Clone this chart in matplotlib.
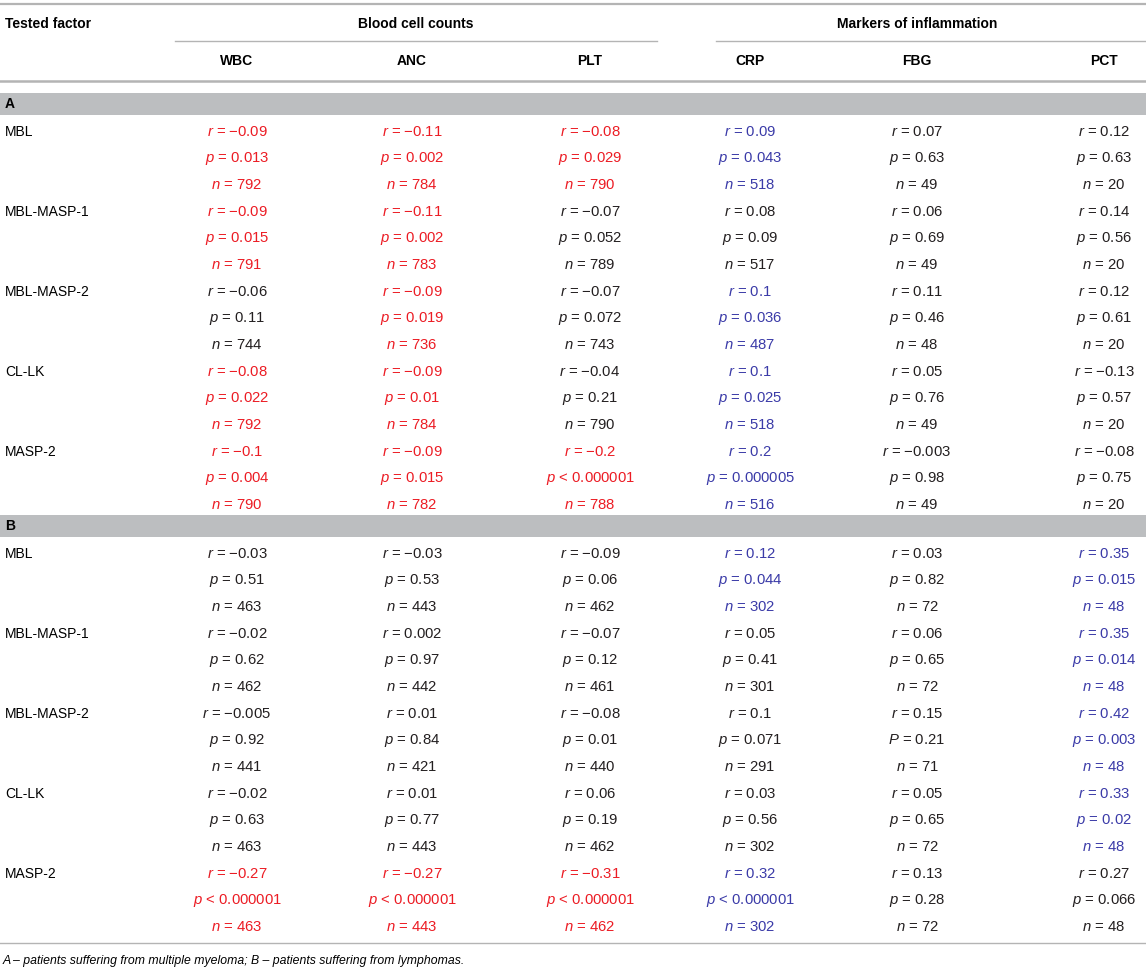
import matplotlib.pyplot as plt

plt.rcParams['font.family'] = ['Liberation Sans', 'DejaVu Sans']
plt.rcParams['mathtext.fontset'] = 'custom'
plt.rcParams['mathtext.it'] = 'Liberation Sans:italic'
plt.rcParams['mathtext.rm'] = 'Liberation Sans'

# table data
factors = ['MBL', 'MBL-MASP-1', 'MBL-MASP-2', 'CL-LK', 'MASP-2']
columns = ['WBC', 'ANC', 'PLT', 'CRP', 'FBG', 'PCT']
groups = ['Blood cell counts', 'Markers of inflammation']

r_A = [['-0.09', '-0.11', '-0.08', '0.09', '0.07', '0.12'],
       ['-0.09', '-0.11', '-0.07', '0.08', '0.06', '0.14'],
       ['-0.06', '-0.09', '-0.07', '0.1', '0.11', '0.12'],
       ['-0.08', '-0.09', '-0.04', '0.1', '0.05', '-0.13'],
       ['-0.1', '-0.09', '-0.2', '0.2', '-0.003', '-0.08']]
p_A = [['0.013', '0.002', '0.029', '0.043', '0.63', '0.63'],
       ['0.015', '0.002', '0.052', '0.09', '0.69', '0.56'],
       ['0.11', '0.019', '0.072', '0.036', '0.46', '0.61'],
       ['0.022', '0.01', '0.21', '0.025', '0.76', '0.57'],
       ['0.004', '0.015', '<0.000001', '0.000005', '0.98', '0.75']]
n_A = [[792, 784, 790, 518, 49, 20],
       [791, 783, 789, 517, 49, 20],
       [744, 736, 743, 487, 48, 20],
       [792, 784, 790, 518, 49, 20],
       [790, 782, 788, 516, 49, 20]]
col_A = ['rrrbkk', 'rrkkkk', 'krkbkk', 'rrkbkk', 'rrrbkk']

r_B = [['-0.03', '-0.03', '-0.09', '0.12', '0.03', '0.35'],
       ['-0.02', '0.002', '-0.07', '0.05', '0.06', '0.35'],
       ['-0.005', '0.01', '-0.08', '0.1', '0.15', '0.42'],
       ['-0.02', '0.01', '0.06', '0.03', '0.05', '0.33'],
       ['-0.27', '-0.27', '-0.31', '0.32', '0.13', '0.27']]
p_B = [['0.51', '0.53', '0.06', '0.044', '0.82', '0.015'],
       ['0.62', '0.97', '0.12', '0.41', '0.65', '0.014'],
       ['0.92', '0.84', '0.01', '0.071', '0.21', '0.003'],
       ['0.63', '0.77', '0.19', '0.56', '0.65', '0.02'],
       ['<0.000001', '<0.000001', '<0.000001', '<0.000001', '0.28', '0.066']]
n_B = [[463, 443, 462, 302, 72, 48],
       [462, 442, 461, 301, 72, 48],
       [441, 421, 440, 291, 71, 48],
       [463, 443, 462, 302, 72, 48],
       [463, 443, 462, 302, 72, 48]]
col_B = ['kkkbkb', 'kkkkkb', 'kkkkkb', 'kkkkkb', 'rrrbkk']

capital_p = [('B', 2, 4)]   # printed as "P" in the original

footnote = 'A – patients suffering from multiple myeloma; B – patients suffering from lymphomas.'

colours = {'r': '#ec1c24', 'b': '#3b3ba8', 'k': '#231f20'}
line_c = '#b4b4b4'
band_c = '#bcbec0'

fig = plt.figure(figsize=(11.46, 9.72), dpi=100)
ax = fig.add_axes([0, 0, 1, 1])
ax.set_xlim(0, 1146)
ax.set_ylim(972, 0)
ax.axis('off')

fs = 10
fs_body = 10.7
col_x = [237, 412, 590, 750, 917, 1104]

# header
ax.axhline(4, color=line_c, lw=1.6)
ax.text(5, 24, 'Tested factor', fontsize=fs, fontweight='bold', va='center')
ax.text(416, 24, groups[0], fontsize=fs, fontweight='bold', va='center', ha='center')
ax.text(917, 24, groups[1], fontsize=fs, fontweight='bold', va='center', ha='center')
ax.plot([175, 657], [41, 41], color=line_c, lw=1)
ax.plot([716, 1146], [41, 41], color=line_c, lw=1)
for x, c in zip(col_x, columns):
    ax.text(x, 61, c, fontsize=fs, fontweight='bold', va='center', ha='center')
ax.axhline(81.5, color=line_c, lw=1.8)


def fmt(letter, val):
    if val.startswith('<'):
        return '$%s$ < %s' % (letter, val[1:])
    return '$%s$ = %s' % (letter, val.replace('-', '\u2212'))


def section(name, top, r_vals, p_vals, n_vals, col_codes):
    ax.fill_between([0, 1146], top, top + 22, color=band_c, lw=0)
    ax.text(5, top + 11, name, fontsize=fs, fontweight='bold', va='center')
    y0 = top + 38.5
    step = 80 / 3
    for i, f in enumerate(factors):
        y = y0 + 3 * i * step
        ax.text(5, y, f, fontsize=fs, va='center')
        for j, x in enumerate(col_x):
            c = colours[col_codes[i][j]]
            pl = 'P' if (name, i, j) in capital_p else 'p'
            lines = [fmt('r', r_vals[i][j]), fmt(pl, p_vals[i][j]),
                     fmt('n', str(n_vals[i][j]))]
            for k, s in enumerate(lines):
                ax.text(x, y + k * step, s, fontsize=fs_body, color=c,
                        va='center', ha='center')


section('A', 93, r_A, p_A, n_A, col_A)
section('B', 515, r_B, p_B, n_B, col_B)

ax.axhline(943, color=line_c, lw=1)
ax.text(3, 961, footnote, fontsize=8.8, style='italic', va='center')

fig.savefig('out.png', dpi=100)
